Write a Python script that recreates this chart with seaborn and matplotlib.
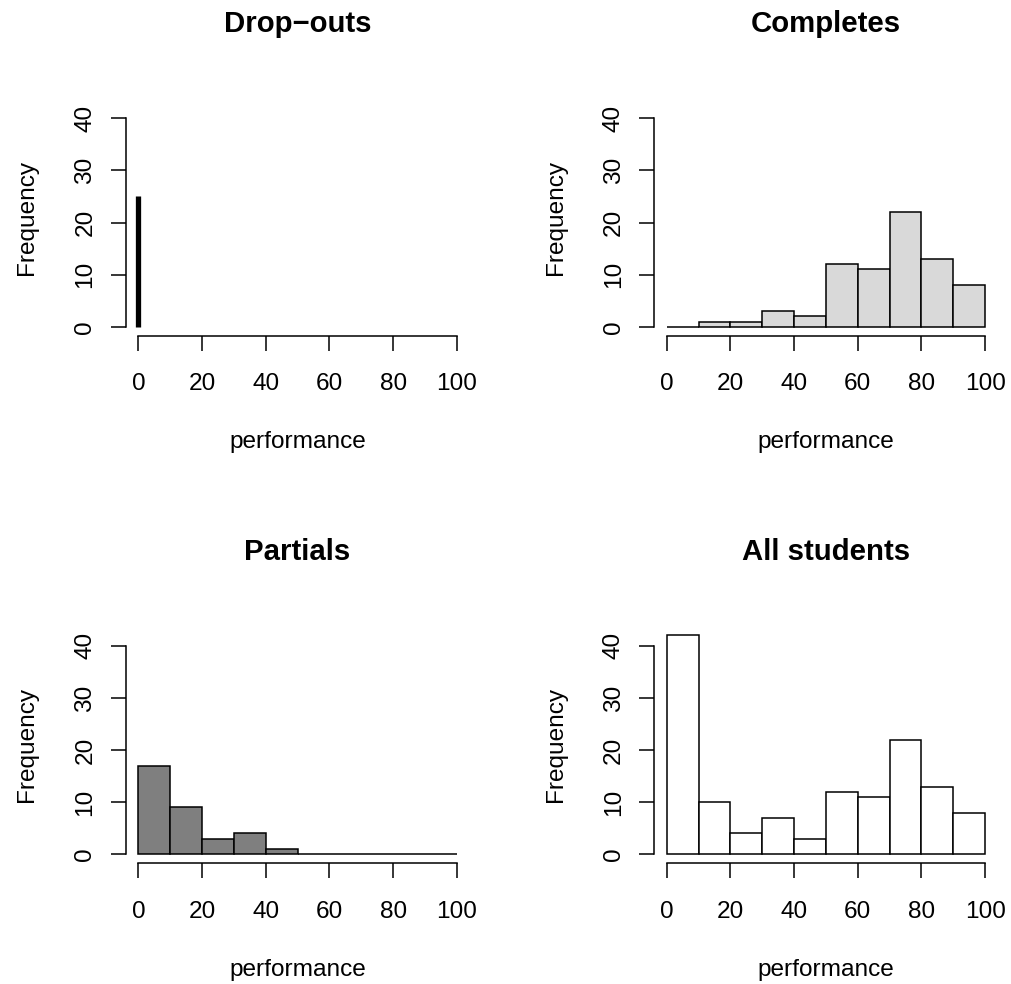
import numpy as np
import pandas as pd
import matplotlib
matplotlib.use("Agg")
import matplotlib.pyplot as plt
import seaborn as sns

# Score bins (performance, 0-100 in steps of 10)
bin_edges = [0, 10, 20, 30, 40, 50, 60, 70, 80, 90, 100]

# Frequencies per bin for each student group
completes_counts = [0, 1, 1, 3, 2, 12, 11, 22, 13, 8]
partials_counts = [17, 9, 3, 4, 1, 0, 0, 0, 0, 0]
all_counts = [42, 10, 4, 7, 3, 12, 11, 22, 13, 8]

# Drop-outs all scored 0
dropout_score = 0
dropout_count = 25

titles = ["Drop\u2212outs", "Completes", "Partials", "All students"]
x_ticks = [0, 20, 40, 60, 80, 100]
y_ticks = [0, 10, 20, 30, 40]

sns.set_style("ticks")
plt.rcParams["font.family"] = ["Liberation Sans", "DejaVu Sans"]
plt.rcParams.update({
    "axes.linewidth": 1.1,
    "xtick.major.width": 1.1,
    "ytick.major.width": 1.1,
    "text.color": "black",
    "axes.labelcolor": "black",
    "axes.edgecolor": "black",
    "xtick.color": "black",
    "ytick.color": "black",
})

W, H = 1011, 984
fig = plt.figure(figsize=(W / 100, H / 100), dpi=100)

# panel boxes in pixels: (left, top, right, bottom)
boxes = [
    (125.6, 99.1, 469.5, 335.5),
    (654.0, 99.1, 997.9, 335.5),
    (125.6, 626.7, 469.5, 863.0),
    (654.0, 626.7, 997.9, 863.0),
]
axes = []
for (l, t, r, b) in boxes:
    ax = fig.add_axes([l / W, 1 - b / H, (r - l) / W, (b - t) / H])
    axes.append(ax)

mids = [(a + b) / 2 for a, b in zip(bin_edges[:-1], bin_edges[1:])]

def hist_panel(ax, counts, color):
    df = pd.DataFrame({"performance": mids, "n": counts})
    sns.histplot(data=df, x="performance", weights="n", bins=bin_edges,
                 color=color, edgecolor="black", linewidth=1.1, alpha=1,
                 ax=ax)

# Drop-outs: one thick spike at score 0
axes[0].vlines(dropout_score, 0, dropout_count, color="black", linewidth=3.8)
hist_panel(axes[1], completes_counts, "#D9D9D9")
hist_panel(axes[2], partials_counts, "#7F7F7F")
hist_panel(axes[3], all_counts, "white")

for ax, title in zip(axes, titles):
    ax.set_xlim(-4, 104)
    ax.set_ylim(-1.68, 43.68)
    ax.set_xticks(x_ticks)
    ax.set_yticks(y_ticks)
    ax.spines["top"].set_visible(False)
    ax.spines["right"].set_visible(False)
    ax.spines["bottom"].set_bounds(0, 100)
    ax.spines["left"].set_bounds(0, 40)
    ax.tick_params(axis="both", direction="out", length=11, labelsize=17.6,
                   colors="black")
    ax.tick_params(axis="x", pad=16)
    ax.tick_params(axis="y", pad=10, labelrotation=90)
    for lab in ax.get_yticklabels():
        lab.set_va("center")
    ax.set_xlabel("performance", fontsize=17.6, labelpad=26, color="black")
    ax.set_ylabel("Frequency", fontsize=17.6, labelpad=26, color="black")
    ax.set_title(title, fontsize=21.2, fontweight="bold", pad=48,
                 color="black")

fig.savefig("out.png", dpi=100, facecolor="white")
